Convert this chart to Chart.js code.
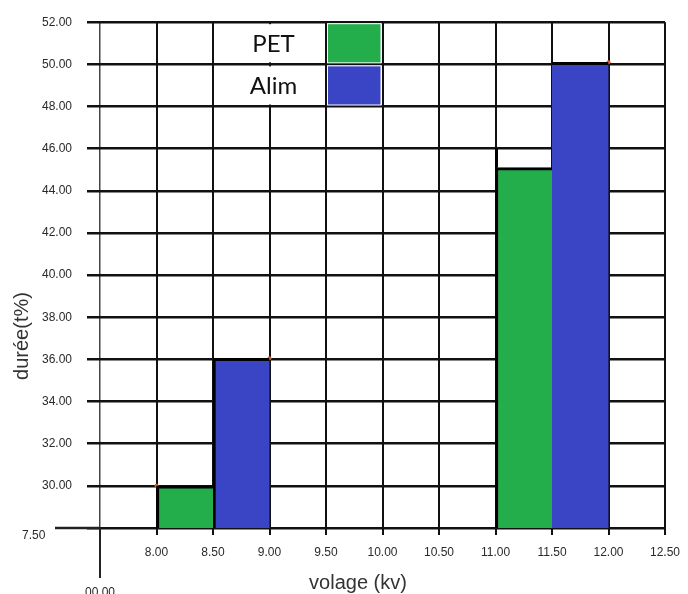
<!DOCTYPE html>
<html>
<head>
<meta charset="utf-8">
<script src="https://cdn.jsdelivr.net/npm/chart.js@4/dist/chart.umd.min.js"></script>
<style>
    html, body { margin: 0; padding: 0; background: #fff; }
    #wrap { width: 688px; height: 594px; }
</style>
</head>
<body>
<div id="wrap"><canvas id="chart" width="688" height="594"></canvas></div>
<script>
// bin centres (kV) and heights
const petX = [8.25, 11.25];
const petY = [30.0, 45.1];
const alimX = [8.75, 11.75];
const alimY = [36.05, 50.1];
// small red marks on the bar corners
const markX = [8.0, 9.0, 12.0];
const markY = [30.0, 36.05, 50.1];

const X_MIN = 7.5, X_MAX = 12.5, X_STEP = 0.5;
const Y_MIN = 28, Y_MAX = 52, Y_STEP = 2;
const Y_BOTTOM_LABEL = "7.50";
const X_LEFT_LABEL = "00.00";
const X_TITLE = "volage (kv)";
const Y_TITLE = "durée(t%)";

const GREEN = "#23ad4b";
const BLUE = "#3a45c5";
const TICK_FONT = { family: "'Liberation Sans', Arial, sans-serif", size: 12 };

const toPoints = (xs, ys) => xs.map((x, i) => ({ x, y: ys[i] }));

// legend drawn inside the grid, one cell per series
const cellLegend = {
    id: "cellLegend",
    afterDraw(chart) {
        const { ctx, scales: { x, y } } = chart;
        const rows = [
            { text: chart.data.datasets[0].label, color: GREEN, top: 52, bottom: 50 },
            { text: chart.data.datasets[1].label, color: BLUE, top: 50, bottom: 48 },
        ];
        ctx.save();
        rows.forEach(r => {
            const yt = y.getPixelForValue(r.top), yb = y.getPixelForValue(r.bottom);
            const x0 = x.getPixelForValue(9.5), x1 = x.getPixelForValue(10.0);
            ctx.fillStyle = "#fff";
            ctx.fillRect(x.getPixelForValue(8.75), yt + 2, x.getPixelForValue(9.25) - x.getPixelForValue(8.75), yb - yt - 4);
            ctx.fillRect(x0 + 1, yt + 1, x1 - x0 - 2, yb - yt - 2);
            ctx.fillStyle = r.color;
            ctx.fillRect(x0 + 2, yt + 2, x1 - x0 - 4, yb - yt - 4);
            ctx.fillStyle = "#111";
            ctx.font = "24px Lato, 'Open Sans', sans-serif";
            ctx.textAlign = "center";
            ctx.textBaseline = "middle";
            ctx.fillText(r.text, x.getPixelForValue(9.0) + 4, (yt + yb) / 2 + 1);
        });
        ctx.restore();
    },
};

// longer stubs of the axes, the edge of the tall green bar, and the axis titles
const axisExtras = {
    id: "axisExtras",
    afterDraw(chart) {
        const { ctx, scales: { x, y } } = chart;
        const x0 = x.getPixelForValue(X_MIN), y0 = y.getPixelForValue(Y_MIN);
        ctx.save();
        ctx.strokeStyle = "#222";
        ctx.lineWidth = 2.5;
        ctx.beginPath();
        ctx.moveTo(x0 - 45, y0);
        ctx.lineTo(x0, y0);
        ctx.stroke();
        ctx.lineWidth = 2;
        ctx.beginPath();
        ctx.moveTo(x0, y0);
        ctx.lineTo(x0, y0 + 50);
        ctx.stroke();

        // left edge of the 11.00 bar runs a little above its top
        ctx.strokeStyle = "#000";
        ctx.lineWidth = 3;
        ctx.beginPath();
        ctx.moveTo(x.getPixelForValue(11.0) + 1, y.getPixelForValue(petY[1]));
        ctx.lineTo(x.getPixelForValue(11.0) + 1, y.getPixelForValue(46.0));
        ctx.stroke();

        ctx.fillStyle = "#333";
        ctx.font = "20px 'Liberation Sans', Arial, sans-serif";
        ctx.textAlign = "center";
        ctx.textBaseline = "middle";
        ctx.fillText(X_TITLE, 358, 583);
        ctx.translate(22, 336);
        ctx.rotate(-Math.PI / 2);
        ctx.fillText(Y_TITLE, 0, 0);
        ctx.restore();
    },
};

const thickLeft = ctx => ({ top: 3, left: ctx.raw && ctx.raw.x === 11.75 ? 0 : 3, right: 0, bottom: 0 });

new Chart(document.getElementById("chart"), {
    type: "bar",
    data: {
        datasets: [
            {
                label: "PET",
                data: toPoints(petX, petY),
                backgroundColor: GREEN,
                borderColor: "#000",
                borderWidth: thickLeft,
                borderSkipped: false,
                grouped: false,
                barPercentage: 1,
                categoryPercentage: 1,
            },
            {
                label: "Alim",
                data: toPoints(alimX, alimY),
                backgroundColor: BLUE,
                borderColor: "#000",
                borderWidth: thickLeft,
                borderSkipped: false,
                grouped: false,
                barPercentage: 1,
                categoryPercentage: 1,
            },
            {
                type: "scatter",
                label: "marks",
                data: toPoints(markX, markY),
                backgroundColor: "#e4572e",
                borderWidth: 0,
                pointRadius: 2,
            },
        ],
    },
    options: {
        responsive: false,
        animation: false,
        layout: { padding: { left: 0, right: 23, top: 17, bottom: 0 } },
        plugins: {
            legend: { display: false },
            tooltip: { enabled: false },
        },
        scales: {
            x: {
                type: "linear",
                min: X_MIN,
                max: X_MAX,
                offset: false,
                afterFit: s => { s.height = 66; s.paddingRight = 0; s.paddingLeft = 0; },
                ticks: {
                    stepSize: X_STEP,
                    padding: 11,
                    color: "#2a2a2a",
                    font: { ...TICK_FONT, lineHeight: 1.1 },
                    maxRotation: 0,
                    autoSkip: false,
                    callback: v => v === X_MIN ? ["", "", "", X_LEFT_LABEL] : v.toFixed(2),
                },
                grid: {
                    offset: false,
                    color: ctx => ctx.tick && ctx.tick.value === X_MIN ? "#444" : "#111",
                    lineWidth: ctx => ctx.tick && ctx.tick.value === X_MIN ? 1.5 : 2,
                    tickLength: 7,
                },
                border: { display: false },
            },
            y: {
                min: Y_MIN,
                max: Y_MAX,
                afterFit: s => { s.width = 100; },
                ticks: {
                    stepSize: Y_STEP,
                    padding: 15,
                    color: "#2a2a2a",
                    font: TICK_FONT,
                    callback: v => v === Y_MIN ? ["", Y_BOTTOM_LABEL + "        "] : v.toFixed(2),
                },
                grid: {
                    color: "#111",
                    lineWidth: 2.5,
                    tickLength: 13,
                },
                border: { display: false },
            },
        },
    },
    plugins: [cellLegend, axisExtras],
});
</script>
</body>
</html>
